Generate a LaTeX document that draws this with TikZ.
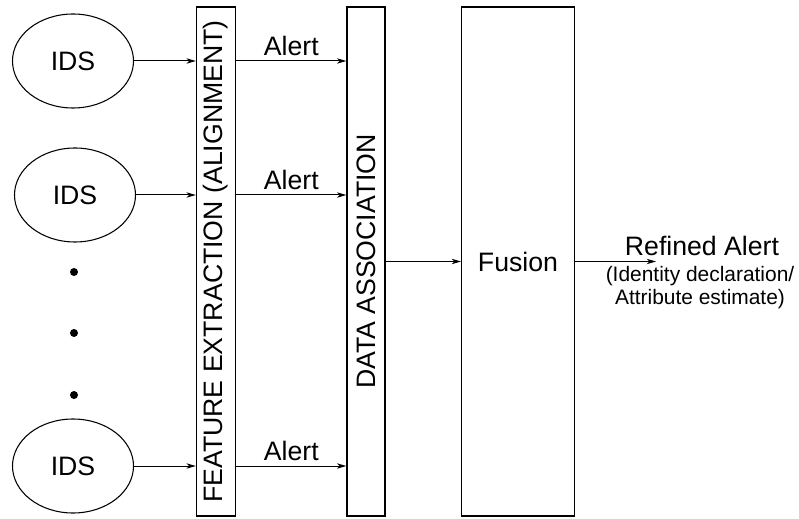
\documentclass[tikz,border=0pt]{standalone}
\usepackage{fontspec}
\setmainfont{Liberation Sans}
\usetikzlibrary{arrows.meta,calc,positioning,shapes.geometric}

\begin{document}
\begin{tikzpicture}[x=0.75pt,y=0.75pt,
  font=\fontsize{20}{24}\selectfont,
  sensor/.style={ellipse,draw,line width=0.8pt,inner sep=0pt,
    minimum width=90.75pt,minimum height=70.5pt},
  stage/.style={draw,line width=1pt,inner sep=0pt,minimum height=381.75pt},
  flow/.style={-{Stealth[length=7pt,width=4pt,inset=2pt]},line width=0.75pt}]
  \useasboundingbox (0,0) rectangle (799,518);

  % sources
  \node[sensor] (ids1) at (73,457) {IDS};
  \node[sensor] (ids2) at (75,323) {IDS};
  \node[sensor] (ids3) at (73,52) {IDS};
  \foreach \y in {246,185,123}
    \fill (74,\y) circle (3pt);

  % processing stages
  \node[stage,minimum width=29.25pt] (fe) at (216,256.5)
    {\rotatebox{90}{FEATURE EXTRACTION (ALIGNMENT)}};
  \node[stage,minimum width=28.5pt] (da) at (366,256.5)
    {\rotatebox{90}{DATA ASSOCIATION}};
  \node[stage,minimum width=84.4pt] (fus) at (518,256.5) {Fusion};

  % alerts
  \foreach \i in {1,2,3}{
    \draw[flow] (ids\i) -- (fe.west |- ids\i);
    \draw[flow] (fe.east |- ids\i) -- node[above] {Alert} (da.west |- ids\i);}
  \draw[flow] (da) -- (fus);

  % output
  \coordinate (out) at (656,256.5);
  \draw[flow] (fus) -- (out);
  \node (res) at (702,272) {Refined Alert};
  \node[font=\fontsize{15.7}{17.25}\selectfont,align=center] (note) at (700,230)
    {(Identity declaration/\\Attribute estimate)};
\end{tikzpicture}
\end{document}
